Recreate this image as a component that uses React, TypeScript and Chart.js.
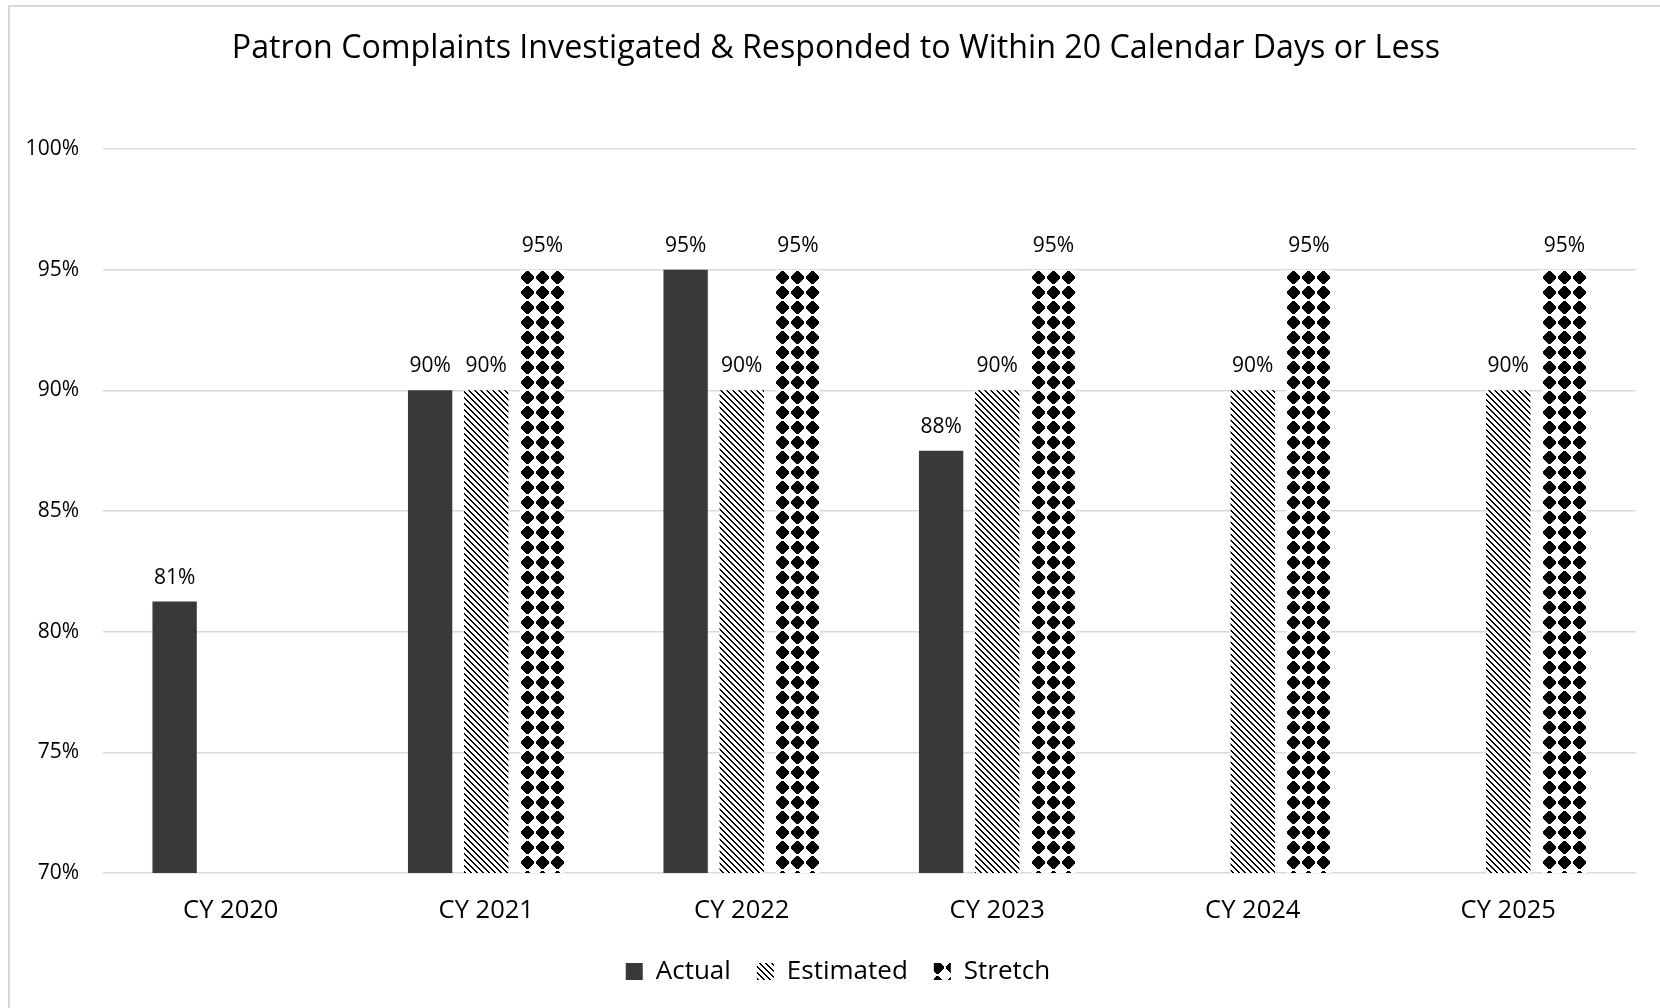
import React, { useEffect, useRef } from 'react';
import { Chart, registerables } from 'chart.js';

Chart.register(...registerables);

const chartTitle = 'Patron Complaints Investigated & Responded to Within 20 Calendar Days or Less';
const categories = ['CY 2020', 'CY 2021', 'CY 2022', 'CY 2023', 'CY 2024', 'CY 2025'];
const seriesNames = ['Actual', 'Estimated', 'Stretch'];
const actualValues = [81.25, 90, 95, 87.5, null, null];
const estimatedValues = [null, 90, 90, 90, 90, 90];
const stretchValues = [null, 95, 95, 95, 95, 95];
const yMin = 70;
const yMax = 100;
const yStep = 5;

const FONT = "'Open Sans', 'Noto Sans', sans-serif";
const CAT_PCT = 0.659;
const BAR_PCT = 0.79;
const DIAMOND = 15;

function makeTile(size: number, test: (x: number, y: number) => boolean) {
  const c = document.createElement('canvas');
  c.width = size;
  c.height = size;
  const g = c.getContext('2d')!;
  g.fillStyle = '#ffffff';
  g.fillRect(0, 0, size, size);
  g.fillStyle = '#000000';
  for (let y = 0; y < size; y++) {
    for (let x = 0; x < size; x++) {
      if (test(x, y)) g.fillRect(x, y, 1, 1);
    }
  }
  return c;
}

const dataLabelPlugin = {
  id: 'dataLabels',
  afterDatasetsDraw(chart: any) {
    const ctx = chart.ctx;
    ctx.save();
    ctx.font = `21px ${FONT}`;
    ctx.fillStyle = '#000';
    ctx.textAlign = 'center';
    ctx.textBaseline = 'alphabetic';
    chart.data.datasets.forEach((ds: any, i: number) => {
      const meta = chart.getDatasetMeta(i);
      meta.data.forEach((el: any, j: number) => {
        const v = ds.data[j];
        if (v === null || v === undefined) return;
        ctx.fillText(Math.round(v) + '%', el.x, el.y - 18);
      });
    });
    ctx.restore();
  },
};

const legendShiftPlugin = {
  id: 'legendShift',
  afterLayout(chart: any) {
    const lg = chart.legend;
    if (lg) {
      lg.left += 14;
      lg.right += 14;
    }
  },
};

const framePlugin = {
  id: 'frame',
  beforeDraw(chart: any) {
    const ctx = chart.ctx;
    ctx.save();
    ctx.fillStyle = '#ffffff';
    ctx.fillRect(0, 0, chart.width, chart.height);
    ctx.fillStyle = '#d9d9d9';
    ctx.fillRect(8, 5, 2, chart.height);
    ctx.fillRect(8, 5, chart.width, 2);
    ctx.font = `32.2px ${FONT}`;
    ctx.fillStyle = '#000';
    ctx.textAlign = 'center';
    ctx.textBaseline = 'middle';
    ctx.fillText(chartTitle, 836, 49);
    ctx.restore();
  },
};

export default function App() {
  const canvasRef = useRef<HTMLCanvasElement | null>(null);

  useEffect(() => {
    const canvas = canvasRef.current!;
    const ctx = canvas.getContext('2d')!;
    const diagTile = makeTile(6, (x, y) => ((((x - y) % 6) + 6) % 6) < 2);
    const diagPattern = ctx.createPattern(diagTile, 'repeat')!;
    const diamondTile = makeTile(DIAMOND, (x, y) => {
      const dx = Math.abs(x - 7);
      const dy = Math.abs(y - 7);
      return (dx + dy <= 7 && Math.max(dx, dy) <= 5) || (dx <= 1 && dy <= 6) || (dy <= 1 && dx <= 6);
    });
    const basePattern = ctx.createPattern(diamondTile, 'repeat')!;

    const stretchFill = (c: any) => {
      const chart = c.chart;
      const area = chart.chartArea;
      if (!area || c.dataIndex === undefined || c.raw === null || c.raw === undefined || !chart.scales.y) {
        return basePattern;
      }
      const p = ctx.createPattern(diamondTile, 'repeat')!;
      const n = categories.length;
      const catW = (area.right - area.left) / n;
      const center = area.left + (c.dataIndex + 0.5) * catW;
      const groupW = catW * CAT_PCT;
      const slot = groupW / 3;
      const barW = slot * BAR_PCT;
      const barLeft = center - groupW / 2 + 2 * slot + (slot - barW) / 2;
      const cols = Math.max(1, Math.round(barW / DIAMOND));
      const offX = barLeft + (barW - cols * DIAMOND) / 2;
      const offY = chart.scales.y.getPixelForValue(c.raw);
      try {
        p.setTransform(new DOMMatrix().translate(Math.round(offX), Math.round(offY)));
      } catch (e) {
        return basePattern;
      }
      return p;
    };

    const chart = new Chart(canvas, {
      type: 'bar',
      data: {
        labels: categories,
        datasets: [
          { label: seriesNames[0], data: actualValues, backgroundColor: '#3b3838', borderWidth: 0 },
          { label: seriesNames[1], data: estimatedValues, backgroundColor: diagPattern, borderWidth: 0 },
          { label: seriesNames[2], data: stretchValues, backgroundColor: stretchFill, borderWidth: 0 },
        ],
      },
      options: {
        animation: false,
        responsive: false,
        maintainAspectRatio: false,
        layout: { padding: { left: 12, right: 24, top: 149, bottom: 13.5 } },
        datasets: { bar: { categoryPercentage: CAT_PCT, barPercentage: BAR_PCT } },
        plugins: {
          title: { display: false },
          legend: {
            position: 'bottom',
            labels: {
              color: '#000',
              font: { family: FONT, size: 26 },
              boxWidth: 17,
              boxHeight: 17,
              padding: 26,
            },
          },
          tooltip: { enabled: false },
        },
        scales: {
          x: {
            grid: { display: false, drawTicks: false },
            border: { display: false },
            ticks: { color: '#000', font: { family: FONT, size: 25.5 }, padding: 22, maxRotation: 0 },
            afterFit: (s: any) => { s.height = 59.5; },
          },
          y: {
            min: yMin,
            max: yMax,
            grid: { color: '#d9d9d9', lineWidth: 1.5, drawTicks: false },
            border: { display: false },
            ticks: {
              stepSize: yStep,
              color: '#000',
              font: { family: FONT, size: 21 },
              padding: 24,
              callback: (v: any) => v + '%',
            },
            afterFit: (s: any) => { s.width = 91; },
          },
        },
      },
      plugins: [framePlugin, dataLabelPlugin, legendShiftPlugin],
    } as any);
    return () => chart.destroy();
  }, []);

  return (
    <div style={{ position: 'absolute', left: 0, top: 0, width: 1660, height: 1008, background: '#fff' }}>
      <canvas ref={canvasRef} width={1660} height={1008} style={{ width: 1660, height: 1008, display: 'block' }} />
    </div>
  );
}
